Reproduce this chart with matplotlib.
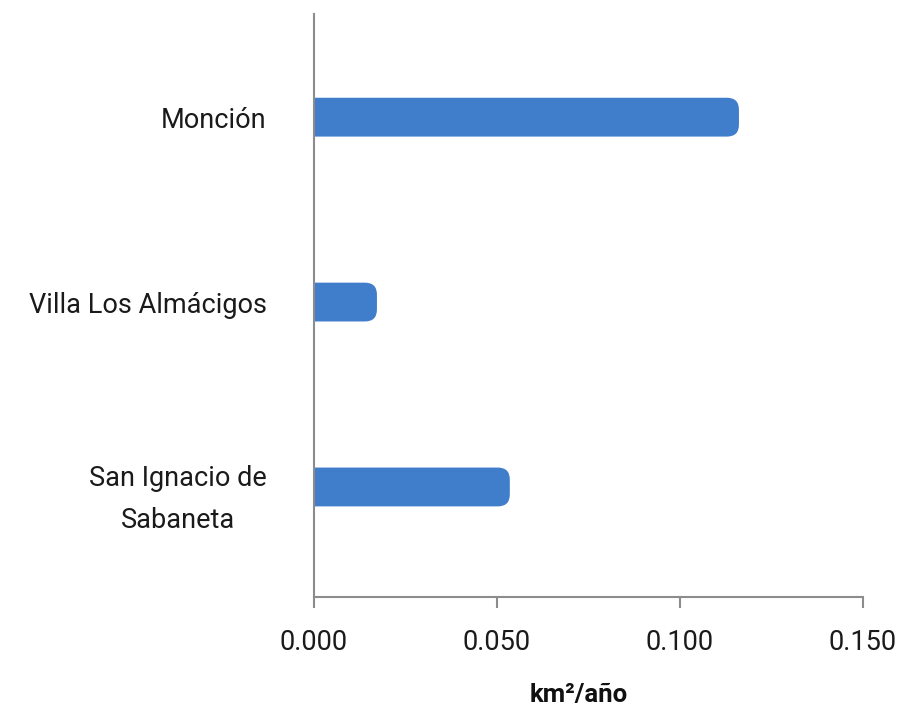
import matplotlib
matplotlib.use("Agg")
from matplotlib import pyplot as plt
from matplotlib.patches import FancyBboxPatch
from matplotlib.ticker import FormatStrFormatter
import matplotlib.transforms as mtransforms
import numpy as np

# Data
municipios = ["San Ignacio de\nSabaneta", "Villa Los Almácigos", "Monción"]
tasa = [0.0535, 0.0172, 0.1161]
x_ticks = [0.0, 0.05, 0.10, 0.15]

plt.rcParams['font.family'] = ['Roboto', 'DejaVu Sans']

fig = plt.figure(figsize=(9.02, 7.09), dpi=100)
ax = fig.add_axes([0.3481, 0.158, 0.6087, 0.822])

ypos = np.arange(len(municipios))
bars = ax.barh(ypos, tasa, height=0.21, color="#407dcb")

ax.set_xlim(0, 0.15)
ax.set_ylim(-0.595, 2.557)

# round the right end of each bar (radius ~12 px)
x_per_px = 0.15 / 549
y_per_px = (2.557 + 0.595) / 583
r = 12 * x_per_px
for b in bars:
    b.set_visible(False)
    p = FancyBboxPatch((b.get_x() - r, b.get_y()), b.get_width() + r, b.get_height(),
                       boxstyle="round,pad=0,rounding_size=%f" % r,
                       mutation_aspect=y_per_px / x_per_px,
                       facecolor=b.get_facecolor(), edgecolor="none")
    p.set_clip_path(ax.patch)
    ax.add_patch(p)

ax.set_yticks(ypos)
ax.set_yticklabels(municipios, fontsize=19.5, color="#1a1a1a",
                   multialignment="center", linespacing=1.72)
ax.tick_params(axis="y", length=0, pad=34)
# the two-line label sits a little lower than its bar
lbl = ax.get_yticklabels()[0]
lbl.set_transform(lbl.get_transform() +
                  mtransforms.ScaledTranslation(0, -2 / 100, fig.dpi_scale_trans))

ax.set_xticks(x_ticks)
ax.xaxis.set_major_formatter(FormatStrFormatter("%.3f"))
ax.tick_params(axis="x", length=8, width=1.5, color="#8c8c8c", labelsize=19.5,
               labelcolor="#1a1a1a", pad=15)

for side in ["top", "right"]:
    ax.spines[side].set_visible(False)
for side in ["left", "bottom"]:
    ax.spines[side].set_color("#8c8c8c")
    ax.spines[side].set_linewidth(1.5)

ax.set_xlabel("km²/año", fontsize=18.5, fontweight="bold", color="#111111")
ax.xaxis.set_label_coords((579 - 314) / 549, -0.147)

fig.savefig("out.png", dpi=100)
